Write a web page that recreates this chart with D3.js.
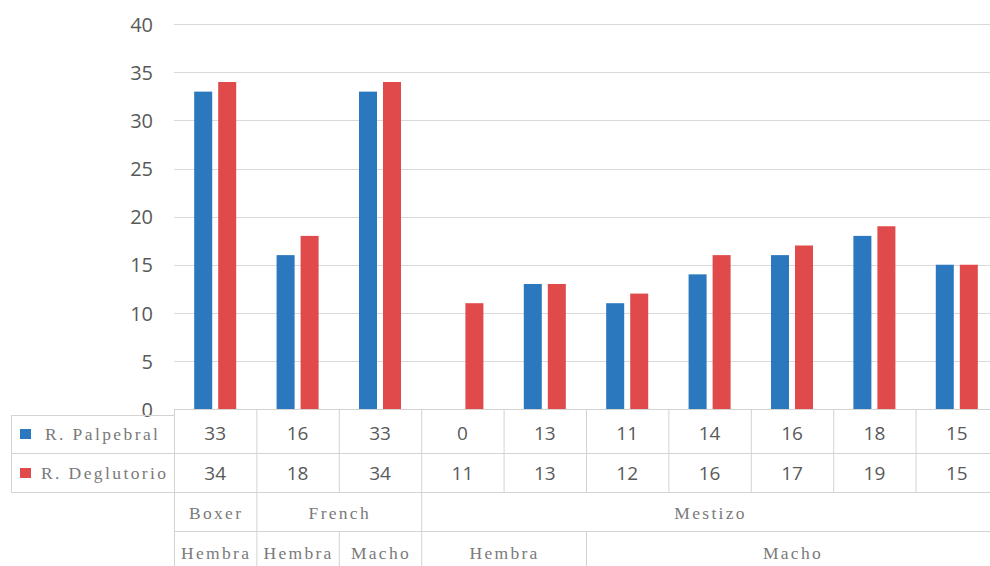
<!DOCTYPE html>
<html>
<head>
<meta charset="utf-8">
<script src="https://cdn.jsdelivr.net/npm/d3@7"></script>
<style>
  html, body { margin: 0; padding: 0; background: #fff; overflow: hidden; }
  svg { display: block; }
</style>
</head>
<body>
<svg id="chart" width="990" height="566"></svg>
<script>
// Categories (one per column of the data table)
const categories = ["c1", "c2", "c3", "c4", "c5", "c6", "c7", "c8", "c9", "c10"];

// Series names and values
const seriesNames = ["R. Palpebral", "R. Deglutorio"];
const palpebral  = [33, 16, 33, 0, 13, 11, 14, 16, 18, 15];
const deglutorio = [34, 18, 34, 11, 13, 12, 16, 17, 19, 15];

// Hierarchical category labels: [label, first column, column span]
const breeds = [["Boxer", 0, 1], ["French", 1, 2], ["Mestizo", 3, 7]];
const sexes  = [["Hembra", 0, 1], ["Hembra", 1, 1], ["Macho", 2, 1], ["Hembra", 3, 2], ["Macho", 5, 5]];

// Y axis ticks
const yTicks = [0, 5, 10, 15, 20, 25, 30, 35, 40];

const colors = ["#2b78be", "#e04a4b"];
const gridColor = "#d9d9d9";
const tableColor = "#d3d3d3";
const numFont = "'Open Sans', 'DejaVu Sans', sans-serif";
const serifFont = "'Liberation Serif', 'DejaVu Serif', serif";

const svg = d3.select("#chart");

const plotLeft = 174, plotRight = 998;
const yTop = 24.3, yBottom = 409;

const x0 = d3.scaleBand()
  .domain(categories)
  .range([plotLeft, plotRight])
  .paddingInner(0.49)
  .paddingOuter(0.245);

const x1 = d3.scaleBand()
  .domain(seriesNames)
  .range([0, x0.bandwidth()])
  .paddingInner(0.25)
  .paddingOuter(0);

const y = d3.scaleLinear().domain([0, 40]).range([yBottom, yTop]);

const step = x0.step();
const colX = i => plotLeft + i * step;

// Gridlines
svg.append("g")
  .selectAll("line")
  .data(yTicks)
  .join("line")
  .attr("x1", plotLeft).attr("x2", plotRight)
  .attr("y1", d => Math.round(y(d)) + 0.5).attr("y2", d => Math.round(y(d)) + 0.5)
  .attr("stroke", gridColor).attr("stroke-width", 1);

// Y axis labels
const yAxis = d3.axisLeft(y).tickValues(yTicks).tickSize(0).tickPadding(0);
const yg = svg.append("g").attr("transform", "translate(153,0)").call(yAxis);
yg.select(".domain").remove();
yg.selectAll("text")
  .attr("font-family", numFont)
  .attr("font-size", 20)
  .attr("fill", "#595959")
  .attr("dy", "0.36em");

// Bars
const series = [palpebral, deglutorio];
const barGroups = svg.append("g")
  .selectAll("g")
  .data(seriesNames.map((name, s) => ({ name, s, values: series[s] })))
  .join("g")
  .attr("fill", d => colors[d.s]);

barGroups.selectAll("rect")
  .data(d => d.values.map((v, i) => ({ v, cat: categories[i], name: d.name })))
  .join("rect")
  .attr("x", d => x0(d.cat) + x1(d.name))
  .attr("width", x1.bandwidth())
  .attr("y", d => y(d.v))
  .attr("height", d => y(0) - y(d.v));

// Data table
const rowY = [409, 453, 492, 531, 580];
const table = svg.append("g").attr("stroke", tableColor).attr("stroke-width", 1).attr("fill", "none");

// Horizontal rules
[1, 2, 3].forEach(r => {
  table.append("line")
    .attr("x1", plotLeft).attr("x2", plotRight)
    .attr("y1", rowY[r] + 0.5).attr("y2", rowY[r] + 0.5);
});
// Column rules for the value rows
d3.range(categories.length + 1).forEach(i => {
  table.append("line")
    .attr("x1", colX(i) + 0.5).attr("x2", colX(i) + 0.5)
    .attr("y1", rowY[0]).attr("y2", rowY[2]);
});
// Column rules for the breed row
[0, 1, 3].forEach(i => {
  table.append("line")
    .attr("x1", colX(i) + 0.5).attr("x2", colX(i) + 0.5)
    .attr("y1", rowY[2]).attr("y2", rowY[3]);
});
// Column rules for the sex row
[0, 1, 2, 3, 5].forEach(i => {
  table.append("line")
    .attr("x1", colX(i) + 0.5).attr("x2", colX(i) + 0.5)
    .attr("y1", rowY[3]).attr("y2", rowY[4]);
});
// Legend box on the left
const legLeft = 11, legTop = 415;
table.append("rect")
  .attr("x", legLeft + 0.5).attr("y", legTop + 0.5)
  .attr("width", plotLeft - legLeft).attr("height", rowY[2] - legTop);
table.append("line")
  .attr("x1", legLeft).attr("x2", plotLeft)
  .attr("y1", rowY[1] + 0.5).attr("y2", rowY[1] + 0.5);

// Axis baseline
svg.append("line")
  .attr("x1", plotLeft).attr("x2", plotRight)
  .attr("y1", rowY[0] + 0.5).attr("y2", rowY[0] + 0.5)
  .attr("stroke", tableColor);

// Table values
const rowCenters = [433, 473];
series.forEach((vals, s) => {
  svg.append("g").selectAll("text")
    .data(vals)
    .join("text")
    .attr("x", (d, i) => x0(categories[i]) + x0.bandwidth() / 2)
    .attr("y", rowCenters[s])
    .attr("dy", "0.36em")
    .attr("text-anchor", "middle")
    .attr("font-family", numFont)
    .attr("font-size", 19)
    .attr("fill", "#595959")
    .text(d => d);
});

// Legend entries
const legendRows = [434, 473];
seriesNames.forEach((name, s) => {
  svg.append("rect")
    .attr("x", 20).attr("y", legendRows[s] - 5)
    .attr("width", 11).attr("height", 10)
    .attr("fill", colors[s]);
  svg.append("text")
    .attr("x", s === 0 ? 45 : 41)
    .attr("y", legendRows[s])
    .attr("dy", "0.33em")
    .attr("font-family", serifFont)
    .attr("font-size", 17.5)
    .attr("letter-spacing", 2.4)
    .attr("fill", "#7a7a7a")
    .text(name);
});

// Category labels
function labelRow(items, cy) {
  svg.append("g").selectAll("text")
    .data(items)
    .join("text")
    .attr("x", d => colX(d[1]) + d[2] * step / 2 + 1)
    .attr("y", cy)
    .attr("dy", "0.33em")
    .attr("text-anchor", "middle")
    .attr("font-family", serifFont)
    .attr("font-size", 17.5)
    .attr("letter-spacing", 2.3)
    .attr("fill", "#7a7a7a")
    .text(d => d[0]);
}
labelRow(breeds, 513);
labelRow(sexes, 553);
</script>
</body>
</html>
